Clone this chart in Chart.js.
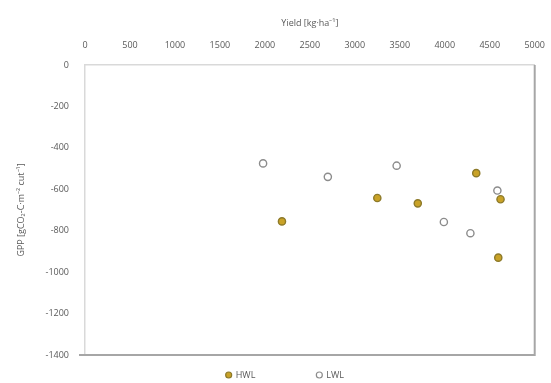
<!DOCTYPE html>
<html>
<head>
<meta charset="utf-8">
<script src="https://cdn.jsdelivr.net/npm/chart.js@4/dist/chart.umd.min.js"></script>
<style>
  html, body { margin: 0; padding: 0; background: #fff; }
  #wrap { width: 551px; height: 383px; position: relative; }
</style>
</head>
<body>
<div id="wrap"><canvas id="gpp-chart"></canvas></div>
<script>
// yield [kg/ha] vs GPP per cut, two water levels
const hwlYield = [2190, 3250, 3700, 4350, 4620, 4595];
const hwlGpp   = [-755, -642, -668, -522, -648, -930];
const lwlYield = [1980, 2700, 3465, 3990, 4285, 4585];
const lwlGpp   = [-475, -540, -486, -758, -812, -606];

const xTicks = [0, 500, 1000, 1500, 2000, 2500, 3000, 3500, 4000, 4500, 5000];
const yTicks = [0, -200, -400, -600, -800, -1000, -1200, -1400];

const TXT = "#595959";
const FONT = "'Open Sans', 'Liberation Sans', sans-serif";

const toPoints = (xs, ys) => xs.map((x, i) => ({ x, y: ys[i] }));

// right + bottom edges of the plot frame are darker than the axis lines
const frameEdges = {
  id: "frameEdges",
  afterDraw(chart) {
    const { ctx, chartArea: a } = chart;
    ctx.save();
    ctx.strokeStyle = "#a6a6a6";
    ctx.lineWidth = 2;
    ctx.beginPath();
    ctx.moveTo(a.left - 6, a.bottom);
    ctx.lineTo(a.right, a.bottom);
    ctx.lineTo(a.right, a.top);
    ctx.stroke();
    ctx.restore();
  },
};

// wide-spaced legend under the plot
const bottomLegend = {
  id: "bottomLegend",
  afterDraw(chart) {
    const { ctx, chartArea: a } = chart;
    const sets = chart.data.datasets;
    const gap = 61;
    ctx.save();
    ctx.font = `9px ${FONT}`;
    ctx.textBaseline = "middle";
    const widths = sets.map(d => 10 + ctx.measureText(d.label).width);
    const total = widths.reduce((s, w) => s + w, 0) + gap * (sets.length - 1);
    let x = (a.left + a.right) / 2 - total / 2 - 25;
    const y = a.bottom + 20;
    sets.forEach((d, i) => {
      ctx.beginPath();
      ctx.arc(x + 3, y, 3, 0, Math.PI * 2);
      ctx.fillStyle = d.backgroundColor;
      ctx.fill();
      ctx.lineWidth = 1.2;
      ctx.strokeStyle = d.borderColor;
      ctx.stroke();
      ctx.fillStyle = TXT;
      ctx.fillText(d.label, x + 10, y);
      x += widths[i] + gap;
    });
    ctx.restore();
  },
};

new Chart(document.getElementById("gpp-chart").getContext("2d"), {
  type: "scatter",
  data: {
    datasets: [
      {
        label: "HWL",
        data: toPoints(hwlYield, hwlGpp),
        backgroundColor: "#c9a227",
        borderColor: "#8d7a2a",
        borderWidth: 1.4,
        pointRadius: 3.6,
        pointHoverRadius: 3.6,
      },
      {
        label: "LWL",
        data: toPoints(lwlYield, lwlGpp),
        backgroundColor: "#ffffff",
        borderColor: "#8c8c8c",
        borderWidth: 1.4,
        pointRadius: 3.6,
        pointHoverRadius: 3.6,
      },
    ],
  },
  options: {
    responsive: true,
    maintainAspectRatio: false,
    animation: false,
    layout: { padding: { left: 16, right: 15, top: 18, bottom: 28 } },
    plugins: {
      tooltip: { enabled: false },
      legend: { display: false },
    },
    scales: {
      x: {
        type: "linear",
        position: "top",
        min: 0,
        max: 5000,
        afterBuildTicks: s => { s.ticks = xTicks.map(v => ({ value: v })); },
        grid: { display: false },
        border: { display: true, color: "#d9d9d9", width: 1.5 },
        ticks: {
          color: TXT, font: { family: FONT, size: 9 }, padding: 6, maxRotation: 0,
          callback: v => String(v),
        },
        title: {
          display: true,
          text: "Yield [kg·ha⁻¹]",
          color: TXT,
          font: { family: FONT, size: 9 },
          padding: { top: 0, bottom: 4 },
        },
        afterFit: s => { s.height = 47; },
      },
      y: {
        type: "linear",
        min: -1400,
        max: 0,
        afterBuildTicks: s => { s.ticks = yTicks.map(v => ({ value: v })); },
        grid: { display: false },
        border: { display: true, color: "#d9d9d9", width: 1.5 },
        ticks: {
          color: TXT, font: { family: FONT, size: 9 }, padding: 8,
          callback: v => String(v),
        },
        title: {
          display: true,
          text: "GPP [gCO₂-C·m⁻² cut⁻¹]",
          color: TXT,
          font: { family: FONT, size: 9 },
          padding: { top: 0, bottom: 6 },
        },
        afterFit: s => { s.width = 69; },
      },
    },
  },
  plugins: [frameEdges, bottomLegend],
});
</script>
</body>
</html>
